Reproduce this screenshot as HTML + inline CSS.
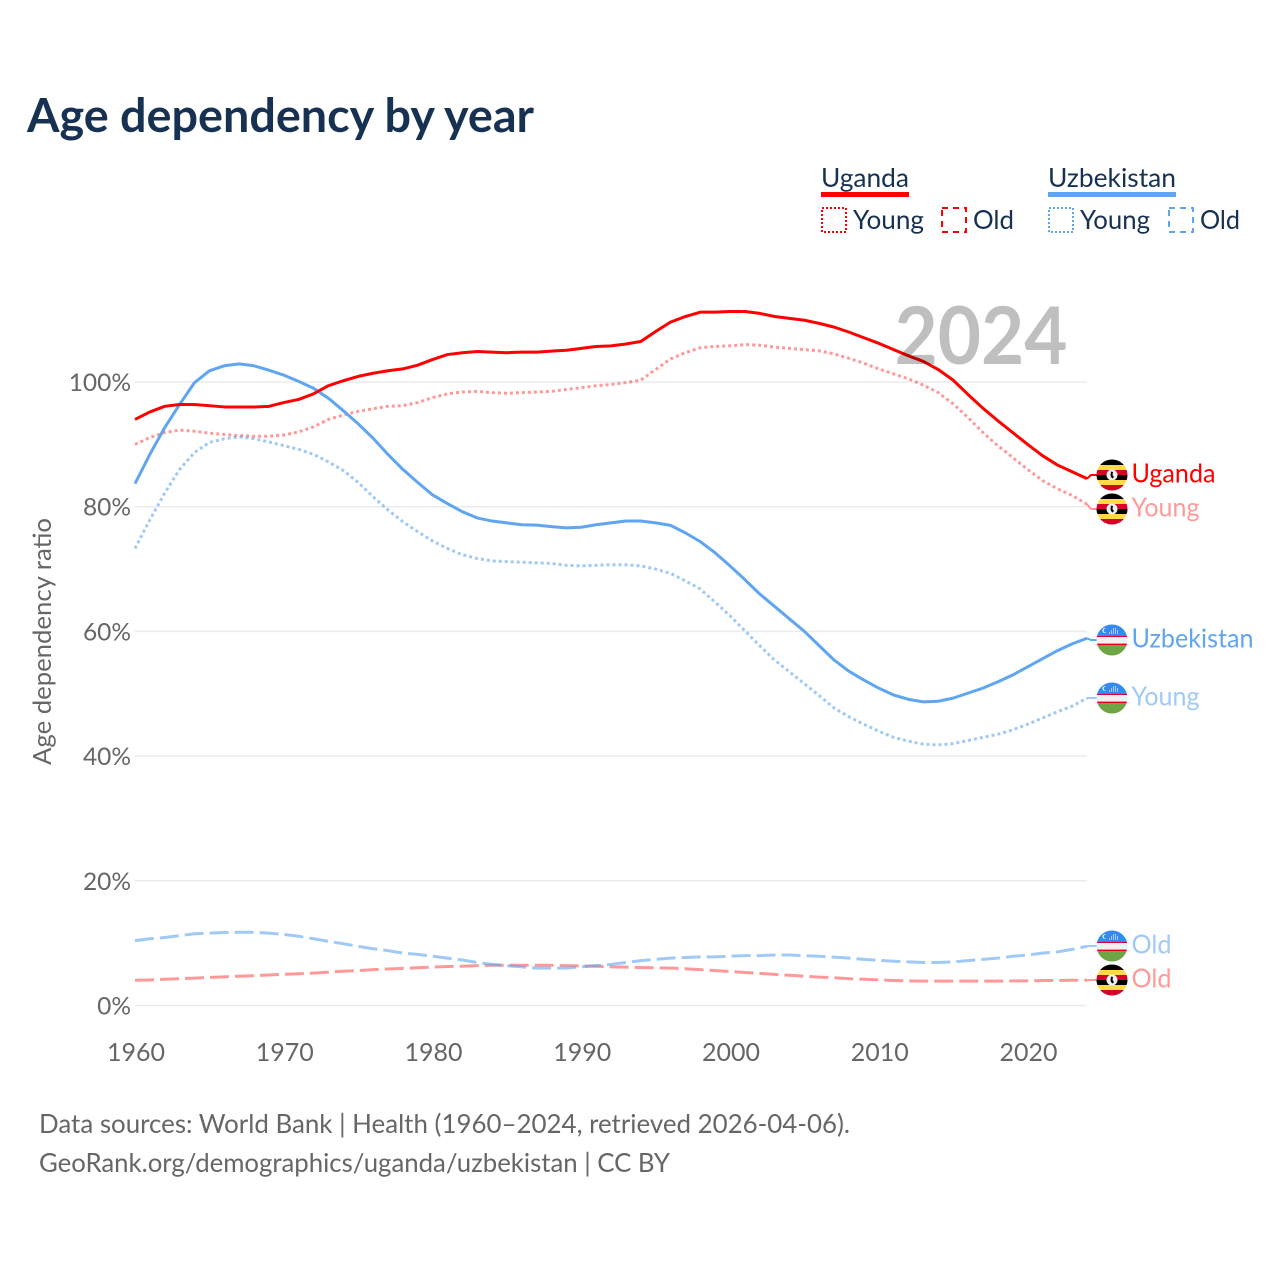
<!DOCTYPE html>
<html lang="en">
<head>
<meta charset="utf-8">
<title>Age dependency by year</title>
<style>
html,body{margin:0;padding:0;background:#fff;}
svg{display:block;font-family:"Lato","Carlito","Liberation Sans",sans-serif;}
</style>
</head>
<body>
<svg id="chart" width="1280" height="1280" viewBox="0 0 1280 1280" xmlns="http://www.w3.org/2000/svg">
<defs>
<clipPath id="flag-clip"><circle cx="0" cy="0" r="15.5"/></clipPath>
<g id="flag-ug" clip-path="url(#flag-clip)">
<rect x="-16" y="-16" width="32" height="6" fill="#000"/>
<rect x="-16" y="-10" width="32" height="5" fill="#ffda44"/>
<rect x="-16" y="-5" width="32" height="5" fill="#d80027"/>
<rect x="-16" y="0" width="32" height="5" fill="#000"/>
<rect x="-16" y="5" width="32" height="5" fill="#ffda44"/>
<rect x="-16" y="10" width="32" height="6" fill="#d80027"/>
<circle r="5.5" fill="#f0f0f0"/>
<path d="M-1-3.5 1-3 .5 0 2 2 .5 3.5-1 2-1.5 0Z" fill="#000"/>
</g>
<g id="flag-uz" clip-path="url(#flag-clip)">
<rect x="-16" y="-16" width="32" height="11.7" fill="#338af3"/>
<rect x="-16" y="-4.3" width="32" height="1.3" fill="#d80027"/>
<rect x="-16" y="-3" width="32" height="6.6" fill="#f0f0f0"/>
<rect x="-16" y="3.6" width="32" height="1.4" fill="#d80027"/>
<rect x="-16" y="5" width="32" height="11" fill="#6da544"/>
<circle cx="-7" cy="-9.5" r="2.6" fill="#f0f0f0"/>
<circle cx="-6" cy="-9.5" r="2.3" fill="#338af3"/>
<path d="M-3-7h1M-1-7h1M1-7h1M3-7h1M5-7h1M-1-9h1M1-9h1M3-9h1M5-9h1M1-11h1M3-11h1" stroke="#f0f0f0" stroke-width="1.2"/>
</g>
</defs>

<text x="27" y="132" font-size="46.7" font-weight="700" fill="#173152" textLength="507" lengthAdjust="spacingAndGlyphs">Age dependency by year</text>

<g font-size="26" fill="#173152">
<text x="821" y="187" textLength="88" lengthAdjust="spacingAndGlyphs">Uganda</text>
<rect x="821" y="192" width="88" height="5" fill="#ff0000"/>
<rect x="822" y="208" width="24" height="24" fill="none" stroke="#ff0000" stroke-width="2" stroke-dasharray="2 2"/>
<text x="853" y="229" textLength="71" lengthAdjust="spacingAndGlyphs">Young</text>
<rect x="942" y="208" width="24" height="24" fill="none" stroke="#ff0000" stroke-width="2" stroke-dasharray="6 5"/>
<text x="973" y="229" textLength="41" lengthAdjust="spacingAndGlyphs">Old</text>
<text x="1048" y="187" textLength="128" lengthAdjust="spacingAndGlyphs">Uzbekistan</text>
<rect x="1048" y="192" width="128" height="5" fill="#60a5f0"/>
<rect x="1049" y="208" width="24" height="24" fill="none" stroke="#60a5f0" stroke-width="2" stroke-dasharray="2 2"/>
<text x="1080" y="229" textLength="70" lengthAdjust="spacingAndGlyphs">Young</text>
<rect x="1169" y="208" width="24" height="24" fill="none" stroke="#60a5f0" stroke-width="2" stroke-dasharray="6 5"/>
<text x="1200" y="229" textLength="40" lengthAdjust="spacingAndGlyphs">Old</text>
</g>

<text transform="translate(51,765) rotate(-90)" font-size="25" fill="#666" textLength="247" lengthAdjust="spacingAndGlyphs">Age dependency ratio</text>

<g id="grid"></g>
<g id="y-ticks"></g>
<g id="x-ticks"></g>
<g id="series"></g>
<g id="end-labels"></g>

<text x="894.5" y="364" font-size="80" font-weight="700" fill="#000" fill-opacity="0.25" textLength="173" lengthAdjust="spacingAndGlyphs">2024</text>

<g font-size="25.9" fill="#666">
<text x="39" y="1133" textLength="811" lengthAdjust="spacingAndGlyphs">Data sources: World Bank | Health (1960–2024, retrieved 2026-04-06).</text>
<text x="39" y="1172" textLength="631" lengthAdjust="spacingAndGlyphs">GeoRank.org/demographics/uganda/uzbekistan | CC BY</text>
</g>
</svg>

<script>
const startYear = 1960;
const yTickValues = [0, 20, 40, 60, 80, 100];
const xTickYears = [1960, 1970, 1980, 1990, 2000, 2010, 2020];

const ugandaTotal = [94.0,95.2,96.1,96.4,96.4,96.2,96.0,96.0,96.0,96.1,
  96.7,97.2,98.1,99.4,100.2,100.9,101.4,101.8,102.1,102.7,
  103.6,104.4,104.7,104.9,104.8,104.7,104.8,104.8,104.95,105.1,
  105.4,105.7,105.8,106.1,106.5,108.1,109.6,110.5,111.2,111.2,
  111.3,111.3,111.0,110.5,110.2,109.9,109.4,108.8,108.0,107.1,
  106.2,105.2,104.2,103.3,102.0,100.3,98.0,95.8,93.8,91.9,
  90.0,88.2,86.7,85.6,84.5];
const ugandaYoung = [90.0,91.1,91.9,92.3,92.1,91.8,91.6,91.4,91.3,91.3,
  91.5,92.0,92.8,94.0,94.7,95.3,95.7,96.1,96.2,96.7,
  97.5,98.1,98.4,98.5,98.3,98.2,98.3,98.4,98.5,98.8,
  99.1,99.4,99.6,99.9,100.3,102.0,103.7,104.7,105.5,105.7,
  105.8,106.0,105.9,105.6,105.4,105.2,105.0,104.5,103.8,103.0,
  102.1,101.3,100.5,99.5,98.3,96.5,94.3,91.9,89.8,87.9,
  86.0,84.2,82.9,81.8,80.4];
const ugandaOld = [4.05,4.1,4.2,4.3,4.4,4.5,4.6,4.7,4.8,4.9,
  5.0,5.1,5.2,5.35,5.5,5.6,5.75,5.85,5.95,6.05,
  6.15,6.25,6.3,6.4,6.45,6.45,6.45,6.45,6.45,6.4,
  6.35,6.3,6.2,6.15,6.1,6.05,6.0,5.9,5.75,5.6,
  5.45,5.3,5.15,5.0,4.85,4.7,4.55,4.45,4.3,4.2,
  4.1,4.0,3.95,3.9,3.9,3.9,3.9,3.9,3.9,3.95,
  3.95,4.0,4.0,4.05,4.05];
const uzbekistanTotal = [83.7,88.4,92.7,96.4,99.9,101.8,102.6,102.9,102.6,101.9,
  101.1,100.1,99.0,97.4,95.4,93.3,91.0,88.4,86.0,83.9,
  81.9,80.5,79.2,78.2,77.7,77.4,77.1,77.05,76.8,76.6,
  76.7,77.1,77.4,77.7,77.7,77.4,77.0,75.8,74.4,72.6,
  70.5,68.3,66.0,64.0,62.0,60.0,57.7,55.4,53.6,52.2,
  50.9,49.8,49.1,48.7,48.8,49.3,50.1,50.9,51.9,53.0,
  54.3,55.6,56.9,58.0,58.9];
const uzbekistanYoung = [73.3,77.9,82.2,86.0,88.7,90.3,90.9,91.2,90.9,90.4,
  89.8,89.2,88.4,87.2,85.8,83.9,81.6,79.5,77.6,76.0,
  74.5,73.3,72.3,71.7,71.3,71.2,71.1,71.0,70.9,70.6,
  70.5,70.6,70.7,70.7,70.5,70.0,69.3,68.1,66.8,64.7,
  62.5,60.1,57.7,55.4,53.5,51.6,49.7,47.7,46.3,45.1,
  44.0,43.0,42.4,41.9,41.8,42.0,42.5,43.0,43.5,44.2,
  45.1,46.1,47.1,48.0,49.3];
const uzbekistanOld = [10.4,10.7,10.9,11.2,11.5,11.6,11.7,11.75,11.75,11.6,
  11.4,11.1,10.7,10.3,9.9,9.5,9.1,8.8,8.4,8.2,
  7.9,7.6,7.3,6.9,6.6,6.4,6.2,6.0,6.0,6.0,
  6.2,6.4,6.6,6.9,7.2,7.4,7.6,7.7,7.8,7.8,
  7.9,8.0,8.0,8.1,8.1,8.0,7.9,7.75,7.6,7.4,
  7.25,7.1,7.0,6.9,6.9,7.0,7.2,7.4,7.6,7.9,
  8.1,8.4,8.6,9.0,9.5];

const NS = 'http://www.w3.org/2000/svg';
const RED = '#ff0000';
const BLUE = '#60a5f0';
const DOTTED = '3 3';
const DASHED = '19 6';

function xScale(year) { return 135 + (year - 1960) * 14.875; }
function yScale(value) { return 1005.5 - value * 6.235; }

function make(tag, attrs, parent) {
  const el = document.createElementNS(NS, tag);
  Object.keys(attrs).forEach(function (k) { el.setAttribute(k, attrs[k]); });
  parent.appendChild(el);
  return el;
}

const gridGroup = document.getElementById('grid');
const yTickGroup = document.getElementById('y-ticks');
yTickValues.forEach(function (v) {
  const line = make('line', { x1: 135, x2: 1087, y1: yScale(v), y2: yScale(v), stroke: '#ebebeb', 'stroke-width': 1.5 }, gridGroup);
  
  
  const t = make('text', { x: 131, y: yScale(v) + 9, 'text-anchor': 'end', 'font-size': 24.5, fill: '#666' }, yTickGroup);
  t.textContent = v + '%';
  
  
});

const xTickGroup = document.getElementById('x-ticks');
xTickYears.forEach(function (yr) {
  const t = make('text', { x: xScale(yr) + 1, y: 1061, 'text-anchor': 'middle', 'font-size': 25, fill: '#666' }, xTickGroup);
  t.textContent = String(yr);
  
  
});

function linePoints(values) {
  return values.map(function (v, i) {
    return xScale(startYear + i).toFixed(2) + ',' + yScale(v).toFixed(2);
  }).join(' ');
}

function drawSeries(values, color, opacity, dash, labelY) {
  const group = document.getElementById('series');
  const attrs = { points: linePoints(values), fill: 'none', stroke: color, 'stroke-opacity': opacity, 'stroke-width': 3, 'stroke-linejoin': 'round' };
  if (dash) { attrs['stroke-dasharray'] = dash; }
  const line = make('polyline', attrs, group);
  
  
  const endY = yScale(values[values.length - 1]);
  const conn = make('polyline', {
    points: '1087,' + endY.toFixed(2) + ' 1091,' + labelY + ' 1097,' + labelY,
    fill: 'none', stroke: color, 'stroke-opacity': opacity, 'stroke-width': 2
  }, group);
  
  
}

function drawLabel(flag, text, color, opacity, labelY, width) {
  const group = document.getElementById('end-labels');
  const f = make('use', { href: '#' + flag, transform: 'translate(1112,' + labelY + ')' }, group);
  
  
  const t = make('text', { x: 1131.5, y: labelY + 7.5, 'font-size': 26, fill: color, 'fill-opacity': opacity, textLength: width, lengthAdjust: 'spacingAndGlyphs' }, group);
  t.textContent = text;
  
  
}

drawSeries(ugandaOld, RED, 0.4, DASHED, 980);
drawSeries(uzbekistanOld, BLUE, 0.6, DASHED, 946);
drawSeries(ugandaYoung, RED, 0.4, DOTTED, 509);
drawSeries(uzbekistanYoung, BLUE, 0.6, DOTTED, 698);
drawSeries(uzbekistanTotal, BLUE, 1, null, 640);
drawSeries(ugandaTotal, RED, 1, null, 475);

drawLabel('flag-ug', 'Uganda', RED, 1, 475, 84);
drawLabel('flag-ug', 'Young', RED, 0.4, 509, 68);
drawLabel('flag-uz', 'Uzbekistan', BLUE, 1, 640, 122);
drawLabel('flag-uz', 'Young', BLUE, 0.6, 698, 68);
drawLabel('flag-uz', 'Old', BLUE, 0.6, 946, 40);
drawLabel('flag-ug', 'Old', RED, 0.4, 980, 40);
</script>
</body>
</html>
